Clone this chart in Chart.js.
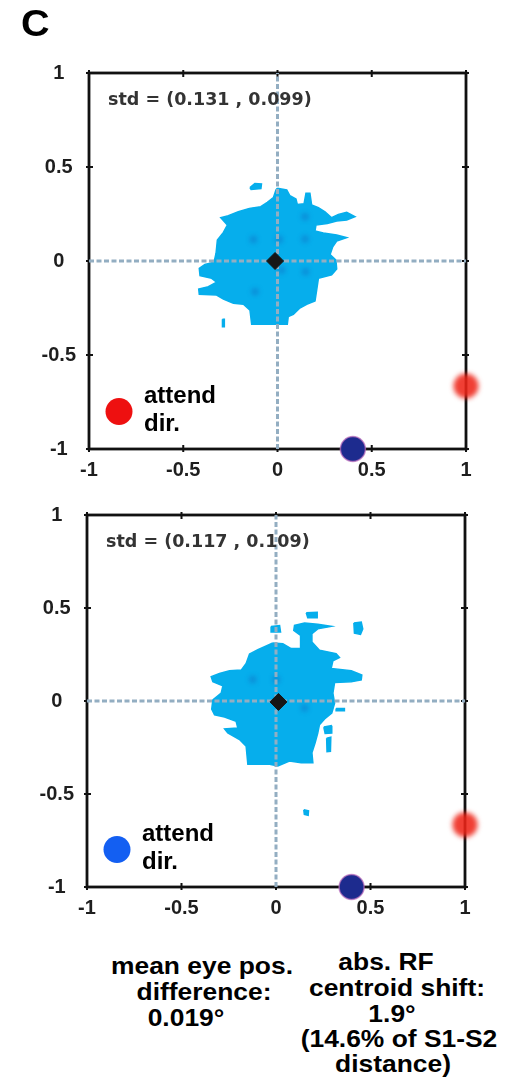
<!DOCTYPE html>
<html lang="en">
<head>
<meta charset="UTF-8">
<title>Eye position and RF shift</title>
<script src="https://cdn.jsdelivr.net/npm/chart.js@4.4.1/dist/chart.umd.min.js"></script>
<style>
  body { margin: 0; background: #fff; }
  #fig { position: relative; width: 507px; height: 1086px; font-family: "Liberation Sans", Arial, sans-serif; font-weight: bold; color: #000; }
  #fig canvas { position: absolute; left: 0; }
  .letter { position: absolute; left: 21px; top: 6px; font-size: 36px; line-height: 36px; transform: scaleX(1.1); transform-origin: left top; }
  .lbl { position: absolute; white-space: nowrap; font-size: 24px; line-height: 24px; transform: translateX(-50%) scaleX(1.1); }
</style>
</head>
<body>
<div id="fig">
  <canvas id="panelRed" width="507" height="490" style="top:0"></canvas>
  <canvas id="panelBlue" width="507" height="440" style="top:490px"></canvas>
  <div class="letter">C</div>

  <div class="lbl" style="left:202px;top:954px">mean eye pos.</div>
  <div class="lbl" style="left:204px;top:980px">difference:</div>
  <div class="lbl" style="left:186px;top:1006px">0.019°</div>

  <div class="lbl" style="left:386px;top:950px">abs. RF</div>
  <div class="lbl" style="left:397px;top:976px">centroid shift:</div>
  <div class="lbl" style="left:392px;top:1002px">1.9°</div>
  <div class="lbl" style="left:399px;top:1027px">(14.6% of S1-S2</div>
  <div class="lbl" style="left:393px;top:1052px">distance)</div>
</div>
<script>
// axis ticks (deg, normalised)
const tickValues = [-1, -0.5, 0, 0.5, 1];
const tickLabels = ['-1', '-0.5', '0', '0.5', '1'];

// stimulus locations
const targetRed = [1, -0.665];
const targetBlue = [0.4, -1];

// attend-red condition: eye position density outline + loose patches
const blobRed = [
  [-0.001, 0.387], [0.049, 0.378], [0.066, 0.347], [0.098, 0.330], [0.105, 0.301], [0.141, 0.305],
  [0.151, 0.360], [0.172, 0.360], [0.181, 0.298], [0.217, 0.284], [0.252, 0.262], [0.287, 0.230],
  [0.323, 0.248], [0.367, 0.259], [0.411, 0.236], [0.367, 0.218], [0.314, 0.213], [0.264, 0.200],
  [0.204, 0.191], [0.199, 0.160], [0.243, 0.149], [0.314, 0.138], [0.367, 0.124], [0.314, 0.106],
  [0.293, 0.076], [0.279, 0.035], [0.310, 0.005], [0.314, -0.043], [0.287, -0.074], [0.217, -0.092],
  [0.208, -0.154], [0.199, -0.213], [0.155, -0.230], [0.116, -0.252], [0.084, -0.284], [0.057, -0.296],
  [0.052, -0.337], [-0.137, -0.337], [-0.146, -0.261], [-0.181, -0.230], [-0.234, -0.225], [-0.287, -0.202],
  [-0.323, -0.181], [-0.415, -0.177], [-0.418, -0.149], [-0.367, -0.137], [-0.323, -0.113], [-0.349, -0.092],
  [-0.411, -0.078], [-0.415, -0.039], [-0.385, -0.018], [-0.337, -0.007], [-0.326, 0.041], [-0.319, 0.112],
  [-0.287, 0.152], [-0.266, 0.191], [-0.301, 0.230], [-0.261, 0.241], [-0.208, 0.262], [-0.149, 0.280],
  [-0.089, 0.289], [-0.054, 0.312], [-0.022, 0.337], [-0.008, 0.378]
];
const bitsRed = [
  [[-0.146, 0.390], [-0.120, 0.412], [-0.085, 0.410], [-0.088, 0.385], [-0.140, 0.380]],
  [[-0.292, -0.310], [-0.282, -0.310], [-0.282, -0.350], [-0.292, -0.350]]
];
const spotsRed = [[-0.128, 0.115], [0.010, 0.115], [0.146, 0.117], [0.146, 0.236], [0.149, -0.057], [-0.119, -0.163], [0.022, -0.048]];
const meanRed = [-0.013, 0];
const stdRed = [0.131, 0.099];

// attend-blue condition
const blobBlue = [
  [-0.017, 0.312], [0.036, 0.308], [0.080, 0.282], [0.130, 0.282], [0.130, 0.353], [0.094, 0.380],
  [0.098, 0.406], [0.151, 0.419], [0.221, 0.412], [0.292, 0.401], [0.221, 0.388], [0.190, 0.362],
  [0.190, 0.317], [0.230, 0.273], [0.318, 0.255], [0.336, 0.234], [0.301, 0.216], [0.292, 0.175],
  [0.398, 0.163], [0.454, 0.140], [0.451, 0.113], [0.398, 0.104], [0.310, 0.099], [0.301, 0.042],
  [0.310, -0.012], [0.295, -0.065], [0.257, -0.097], [0.230, -0.127], [0.221, -0.172], [0.207, -0.225],
  [0.190, -0.278], [0.195, -0.332], [0.133, -0.332], [0.071, -0.323], [0.010, -0.349], [-0.034, -0.340],
  [-0.149, -0.340], [-0.158, -0.243], [-0.193, -0.207], [-0.255, -0.172], [-0.272, -0.150], [-0.202, -0.145],
  [-0.211, -0.109], [-0.272, -0.086], [-0.325, -0.074], [-0.340, -0.044], [-0.334, 0.006], [-0.290, 0.042],
  [-0.281, 0.081], [-0.334, 0.104], [-0.343, 0.131], [-0.299, 0.148], [-0.246, 0.163], [-0.184, 0.166],
  [-0.158, 0.202], [-0.140, 0.252], [-0.096, 0.276], [-0.043, 0.300]
];
const bitsBlue = [
  [[0.412, 0.419], [0.451, 0.424], [0.459, 0.388], [0.447, 0.358], [0.415, 0.365]],
  [[0.160, 0.474], [0.218, 0.477], [0.218, 0.447], [0.168, 0.447]],
  [[-0.026, 0.401], [0.019, 0.406], [0.024, 0.371], [-0.022, 0.371]],
  [[0.253, -0.140], [0.292, -0.133], [0.295, -0.172], [0.260, -0.175]],
  [[0.268, -0.200], [0.290, -0.195], [0.288, -0.270], [0.270, -0.272]],
  [[0.318, -0.040], [0.362, -0.040], [0.362, -0.052], [0.318, -0.052]],
  [[0.147, -0.585], [0.172, -0.590], [0.170, -0.615], [0.150, -0.610]]
];
const spotsBlue = [[-0.123, 0.116], [0.001, 0.116], [0.151, -0.038]];
const meanBlue = [0.013, -0.005];
const stdBlue = [0.117, 0.109];

const BLOB = '#06aeec';
const CROSS = '#93aec2';
const TICK_FONT = { family: '"Liberation Sans", Arial, sans-serif', size: 20, weight: 'bold' };

function pt(p) { return { x: p[0], y: p[1] }; }

function closed(pts) {
  const d = pts.map(pt);
  d.push(pt(pts[0]));
  return d;
}

function patch(pts) {
  return {
    type: 'line', data: closed(pts), fill: 'shape',
    backgroundColor: BLOB, borderColor: BLOB, borderWidth: 1.5,
    pointRadius: 0, tension: 0, order: 10
  };
}

// blur for soft marks
const softPlugin = {
  id: 'soft',
  beforeDatasetDraw(chart, args) {
    const b = args.meta._dataset.blur;
    if (b) { chart.ctx.save(); chart.ctx.filter = 'blur(' + b + 'px)'; }
  },
  afterDatasetDraw(chart, args) {
    if (args.meta._dataset.blur) chart.ctx.restore();
  }
};

// frame, inner ticks, std text and the attend marker
const decor = {
  id: 'decor',
  beforeDatasetsDraw(chart) {
    const { ctx, chartArea: a, scales } = chart;
    ctx.save();
    ctx.strokeStyle = '#111';
    ctx.lineWidth = 2.8;
    ctx.strokeRect(a.left, a.top, a.right - a.left, a.bottom - a.top);
    ctx.lineWidth = 2;
    tickValues.forEach(v => {
      const x = scales.x.getPixelForValue(v);
      const y = scales.y.getPixelForValue(v);
      ctx.beginPath();
      ctx.moveTo(x, a.top - 3); ctx.lineTo(x, a.top + 4);
      ctx.moveTo(x, a.bottom - 4); ctx.lineTo(x, a.bottom + 3);
      ctx.moveTo(a.left - 3, y); ctx.lineTo(a.left + 4, y);
      ctx.moveTo(a.right - 4, y); ctx.lineTo(a.right + 3, y);
      ctx.stroke();
    });
    ctx.restore();
  },
  afterDraw(chart, args, opts) {
    const { ctx, chartArea: a } = chart;
    ctx.save();
    ctx.fillStyle = '#333';
    ctx.font = 'bold 17.5px "DejaVu Sans"';
    ctx.textBaseline = 'alphabetic';
    ctx.fillText('std = (' + opts.std[0].toFixed(3) + ' , ' + opts.std[1].toFixed(3) + ')', a.left + 19, a.top + 32);

    ctx.fillStyle = opts.dot;
    ctx.beginPath();
    ctx.arc(a.left + 30, a.bottom - 37.5, 13.5, 0, Math.PI * 2);
    ctx.fill();

    ctx.fillStyle = '#000';
    ctx.font = 'bold 24px "Liberation Sans", Arial, sans-serif';
    ctx.fillText('attend', a.left + 55, a.bottom - 46.5);
    ctx.fillText('dir.', a.left + 55, a.bottom - 18);
    ctx.restore();
  }
};

function panel(id, p) {
  const sets = [patch(p.blob)];
  p.bits.forEach(b => sets.push(patch(b)));
  sets.push({
    data: p.spots.map(pt), pointRadius: 4, backgroundColor: 'rgba(20,95,185,0.35)',
    borderWidth: 0, blur: 2, order: 9
  });
  sets.push({
    type: 'line', data: [{ x: -1, y: 0 }, { x: 1, y: 0 }], borderColor: CROSS,
    borderWidth: 3, borderDash: [5, 2.5], pointRadius: 0, fill: false, order: 8
  });
  sets.push({
    type: 'line', data: [{ x: 0, y: -1 }, { x: 0, y: 1 }], borderColor: CROSS,
    borderWidth: 3, borderDash: [5, 2.5], pointRadius: 0, fill: false, order: 7
  });
  sets.push({
    data: [pt(p.mean)], pointStyle: 'rectRot', pointRadius: 8.5,
    backgroundColor: '#161616', borderColor: '#161616', borderWidth: 1, order: 3
  });
  sets.push({
    data: [pt(targetRed)], pointRadius: 12.5, backgroundColor: 'rgba(238,36,24,0.88)',
    borderWidth: 0, blur: 2.5, clip: false, order: 2
  });
  sets.push({
    data: [pt(targetBlue)], pointRadius: 12.5, backgroundColor: '#1d2b8e',
    borderColor: 'rgba(190,110,190,0.7)', borderWidth: 1.5, blur: 0.6, clip: false, order: 1
  });

  const axis = (fitFn, extra) => Object.assign({
    type: 'linear', min: -1, max: 1,
    grid: { display: false, drawTicks: false },
    border: { display: false },
    afterBuildTicks: s => { s.ticks = tickValues.map(v => ({ value: v })); },
    afterFit: fitFn
  }, extra);

  return new Chart(document.getElementById(id), {
    type: 'scatter',
    data: { datasets: sets },
    plugins: [softPlugin, decor],
    options: {
      responsive: false,
      animation: false,
      devicePixelRatio: 1,
      events: [],
      layout: { padding: { top: p.top, right: p.right, left: 0, bottom: 0 } },
      plugins: {
        legend: { display: false },
        tooltip: { enabled: false },
        decor: { std: p.std, dot: p.dot }
      },
      scales: {
        x: axis(s => { s.height = p.bottom; }, {
          ticks: { padding: 9, font: TICK_FONT, color: '#1e1e1e', maxRotation: 0, autoSkip: false,
                   callback: (v, i) => tickLabels[i] }
        }),
        y: axis(s => { s.width = p.left; }, {
          ticks: { padding: 13, crossAlign: 'center', font: TICK_FONT, color: '#1e1e1e', autoSkip: false,
                   callback: (v, i) => tickLabels[i] }
        })
      }
    }
  });
}

panel('panelRed', {
  blob: blobRed, bits: bitsRed, spots: spotsRed, mean: meanRed, std: stdRed, dot: '#ee1010',
  left: 89, top: 73, right: 41, bottom: 41
});
panel('panelBlue', {
  blob: blobBlue, bits: bitsBlue, spots: spotsBlue, mean: meanBlue, std: stdBlue, dot: '#135ff2',
  left: 87, top: 22, right: 42, bottom: 43
});
</script>
</body>
</html>
